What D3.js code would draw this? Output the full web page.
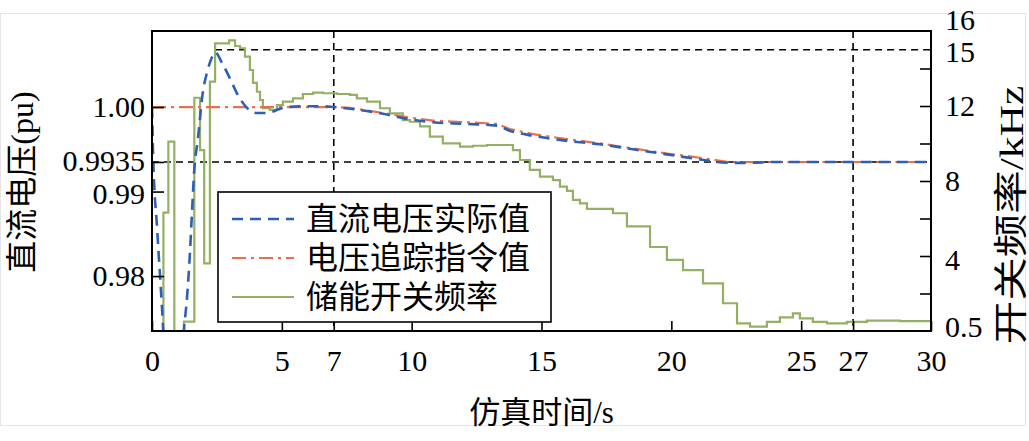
<!DOCTYPE html>
<html><head><meta charset="utf-8">
<script src="https://cdn.jsdelivr.net/npm/d3@7"></script>
<style>
html,body{margin:0;padding:0;background:#fff;}
svg{display:block;}
</style></head>
<body>
<svg id="chart" width="1029" height="441"></svg>
<script>
// ---------- data ----------
const xTicks = [0, 5, 7, 10, 15, 20, 25, 27, 30];
const leftTicks = [1.00, 0.9935, 0.99, 0.98];
const leftTickLabels = ["1.00", "0.9935", "0.99", "0.98"];
const rightMinorTicks = [2, 4, 6, 8, 10, 12, 14];
const rightTickLabels = [16, 15, 12, 8, 4, 0.5];
const seriesNames = ["直流电压实际值", "电压追踪指令值", "储能开关频率"];

// actual DC voltage (pu)
const tBlue = [0, 0.04, 0.2, 0.38, 0.5, 0.7, 0.95, 1.15, 1.23, 1.35, 1.46, 1.54, 1.62, 1.77, 1.96, 2.12, 2.31, 2.43, 2.7, 3.0, 3.31, 3.66, 4.04, 4.43, 5.04, 5.7, 6.5, 7.0, 7.62, 8.9, 9.82, 10.82, 12.13, 13.28, 13.78, 14.67, 15.98, 17.25, 18.52, 19.83, 21.1, 21.76, 22.3, 23, 24, 25, 26, 27, 28, 29, 30];
const vBlue = [1.000, 0.9946, 0.9855, 0.9765, 0.9700, 0.9660, 0.9655, 0.9700, 0.9736, 0.9775, 0.9827, 0.9875, 0.9922, 0.9963, 1.0018, 1.0041, 1.0059, 1.0065, 1.0052, 1.0034, 1.0014, 0.9999, 0.9993, 0.9993, 0.9999, 1.0001, 1.0001, 1.0000, 0.9998, 0.9992, 0.9986, 0.9982, 0.9980, 0.9978, 0.9972, 0.9966, 0.9960, 0.9956, 0.9950, 0.9944, 0.9938, 0.9935, 0.9934, 0.9934, 0.9935, 0.9935, 0.9935, 0.9935, 0.9935, 0.9935, 0.9935];

// voltage tracking reference (pu)
const tRed = [0, 7, 7.62, 8.9, 9.82, 10.82, 12.13, 13.28, 13.78, 14.67, 15.98, 17.25, 18.52, 19.83, 21.1, 21.76, 22.2, 30];
const vRed = [1.000, 1.000, 0.9999, 0.9993, 0.9988, 0.9984, 0.9982, 0.9980, 0.9974, 0.9968, 0.9962, 0.9957, 0.9951, 0.9945, 0.9940, 0.9937, 0.9935, 0.9935];

// storage switching frequency (kHz)
const tGreen = [0, 0.44, 0.63, 0.86, 1.23, 1.63, 1.85, 2.01, 2.23, 2.43, 2.97, 3.2, 3.39, 3.58, 3.77, 3.89, 4.04, 4.16, 4.27, 4.54, 4.81, 5.04, 5.43, 5.81, 6.2, 6.58, 7.12, 7.62, 7.89, 8.28, 8.78, 9.16, 9.66, 9.93, 10.32, 10.7, 11.2, 11.86, 12.36, 12.9, 13.67, 13.9, 14.17, 14.55, 14.94, 15.44, 15.71, 15.98, 16.21, 16.48, 16.75, 17.75, 18.29, 19.18, 19.83, 20.45, 21.22, 21.99, 22.53, 23.03, 23.68, 24.18, 24.68, 24.95, 25.45, 25.99, 26.76, 27.53, 28.8, 30];
const fGreen = [0, 6.31, 10.1, 0, 0.5, 12.44, 9.65, 3.61, 13.3, 15.34, 15.5, 15.2, 15.08, 14.63, 13.92, 13.23, 12.76, 12.32, 11.89, 11.79, 12.05, 12.23, 12.41, 12.64, 12.71, 12.68, 12.64, 12.59, 12.41, 12.23, 11.88, 11.61, 11.25, 11.16, 10.91, 10.37, 10.01, 9.83, 9.88, 9.92, 9.92, 9.65, 9.12, 8.59, 8.23, 8.05, 7.70, 7.47, 6.99, 6.81, 6.51, 6.28, 5.58, 4.48, 3.79, 3.25, 2.54, 1.48, 0.41, 0.23, 0.49, 0.73, 0.94, 0.67, 0.49, 0.41, 0.49, 0.55, 0.53, 0.49];

// reference marks
const refVoltage = 0.9935;
const refFreq = 15;
const refFreqStart = 2.43;
const refTimes = [7, 27];

// ---------- layout ----------
const L = 152, R = 931, T = 31, B = 331;
const numFont = "'Liberation Serif','Times New Roman',serif";
const cjkFont = "'Liberation Serif','Noto Sans CJK SC',serif";
const colBlue = "#2c5fb8", colRed = "#e8704c", colGreen = "#94b063";

const svg = d3.select("#chart");
const x = d3.scaleLinear().domain([0, 30]).range([L, R]);
const yL = d3.scaleLinear().domain([0.9735, 1.009]).range([B, T]);
const yR = d3.scaleLinear().domain([0, 16]).range([B, T]);

svg.append("defs").append("clipPath").attr("id", "clip")
  .append("rect").attr("x", L).attr("y", T).attr("width", R - L).attr("height", B - T);

// faint scan border
svg.append("rect").attr("x", 0.5).attr("y", 13.5).attr("width", 1025).attr("height", 412)
  .attr("fill", "none").attr("stroke", "#e4e4e4").attr("stroke-width", 1);

const plot = svg.append("g").attr("clip-path", "url(#clip)");

// dashed reference lines
const dashStyle = g => g.attr("stroke", "#000").attr("stroke-width", 1.6).attr("stroke-dasharray", "7,5").attr("fill", "none");
plot.append("line").attr("x1", x(0)).attr("x2", x(30)).attr("y1", yL(refVoltage)).attr("y2", yL(refVoltage)).call(dashStyle);
plot.append("line").attr("x1", x(refFreqStart)).attr("x2", x(30)).attr("y1", yR(refFreq)).attr("y2", yR(refFreq)).call(dashStyle);
refTimes.forEach(t => {
  plot.append("line").attr("x1", x(t)).attr("x2", x(t)).attr("y1", T).attr("y2", B).call(dashStyle);
});

// series
const greenData = tGreen.map((t, i) => [t, fGreen[i]]);
const redData = tRed.map((t, i) => [t, vRed[i]]);
const blueData = tBlue.map((t, i) => [t, vBlue[i]]);

plot.append("path").datum(greenData)
  .attr("d", d3.line().x(d => x(d[0])).y(d => yR(d[1])).curve(d3.curveStepAfter))
  .attr("fill", "none").attr("stroke", colGreen).attr("stroke-width", 2.2);

plot.append("path").datum(redData)
  .attr("d", d3.line().x(d => x(d[0])).y(d => yL(d[1])))
  .attr("fill", "none").attr("stroke", colRed).attr("stroke-width", 2.2).attr("stroke-dasharray", "14,5,3,5");

plot.append("path").datum(blueData)
  .attr("d", d3.line().x(d => x(d[0])).y(d => yL(d[1])).curve(d3.curveMonotoneX))
  .attr("fill", "none").attr("stroke", colBlue).attr("stroke-width", 2.6).attr("stroke-dasharray", "11,7");

// frame
svg.append("rect").attr("x", L).attr("y", T).attr("width", R - L).attr("height", B - T)
  .attr("fill", "none").attr("stroke", "#000").attr("stroke-width", 2);

// axes
const styleAxis = g => {
  g.select(".domain").remove();
  g.selectAll(".tick line").attr("stroke", "#000").attr("stroke-width", 1.6);
  g.selectAll("text").attr("font-family", numFont).attr("font-size", 30).attr("fill", "#000");
};

const leftShift = {0.9935: -1, 0.99: 2};
svg.append("g").attr("transform", `translate(${L},0)`)
  .call(d3.axisLeft(yL).tickValues(leftTicks).tickSizeInner(-12).tickSizeOuter(0).tickPadding(7)
    .tickFormat((d, i) => leftTickLabels[i]))
  .call(styleAxis)
  .call(g => g.selectAll(".tick text").attr("transform", d => `translate(0,${leftShift[d] || 0})`));

svg.append("g").attr("transform", `translate(0,${B})`)
  .call(d3.axisBottom(x).tickValues(xTicks).tickSizeInner(-10).tickSizeOuter(0).tickPadding(19)
    .tickFormat(d3.format("d")))
  .call(styleAxis);

svg.append("g").attr("transform", `translate(${R},0)`)
  .call(d3.axisRight(yR).tickValues(rightMinorTicks).tickSizeInner(-11).tickSizeOuter(0).tickFormat(""))
  .call(styleAxis);

const labelShift = {16: -11, 15: 2, 0.5: 5, 4: 4};
svg.append("g").attr("transform", `translate(${R},0)`)
  .call(d3.axisRight(yR).tickValues(rightTickLabels).tickSizeInner(0).tickSizeOuter(0).tickPadding(14)
    .tickFormat(d => String(d)))
  .call(styleAxis)
  .call(g => g.selectAll(".tick text").attr("transform", d => `translate(0,${labelShift[d] || 0})`));

// axis titles
svg.append("text").attr("transform", `translate(${x(15)},${412})`)
  .attr("text-anchor", "middle").attr("dominant-baseline", "central")
  .attr("font-family", cjkFont).attr("font-size", 31).text("仿真时间/s");

svg.append("text").attr("transform", `translate(22,${182}) rotate(-90)`)
  .attr("text-anchor", "middle").attr("dominant-baseline", "central")
  .attr("font-family", cjkFont).attr("font-size", 32).text("直流电压(pu)");

svg.append("text").attr("transform", `translate(1011,${215}) rotate(-90) scale(1.28,1)`)
  .attr("text-anchor", "middle").attr("dominant-baseline", "central")
  .attr("font-family", cjkFont).attr("font-size", 34).text("开关频率/kHz");

// legend
const lg = svg.append("g");
lg.append("rect").attr("x", 218).attr("y", 192).attr("width", 333).attr("height", 130)
  .attr("fill", "#fff").attr("stroke", "#000").attr("stroke-width", 1.6);
const legendStyles = [
  {c: colBlue, dash: "11,7", w: 2.6},
  {c: colRed, dash: "14,5,3,5", w: 2.2},
  {c: colGreen, dash: null, w: 2.2}
];
seriesNames.forEach((name, i) => {
  const yy = 219 + i * 39;
  lg.append("line").attr("x1", 232).attr("x2", 294).attr("y1", yy).attr("y2", yy)
    .attr("stroke", legendStyles[i].c).attr("stroke-width", legendStyles[i].w)
    .attr("stroke-dasharray", legendStyles[i].dash);
  lg.append("text").attr("x", 306).attr("y", yy).attr("dominant-baseline", "central")
    .attr("font-family", cjkFont).attr("font-size", 32).text(name);
});
</script>
</body></html>
